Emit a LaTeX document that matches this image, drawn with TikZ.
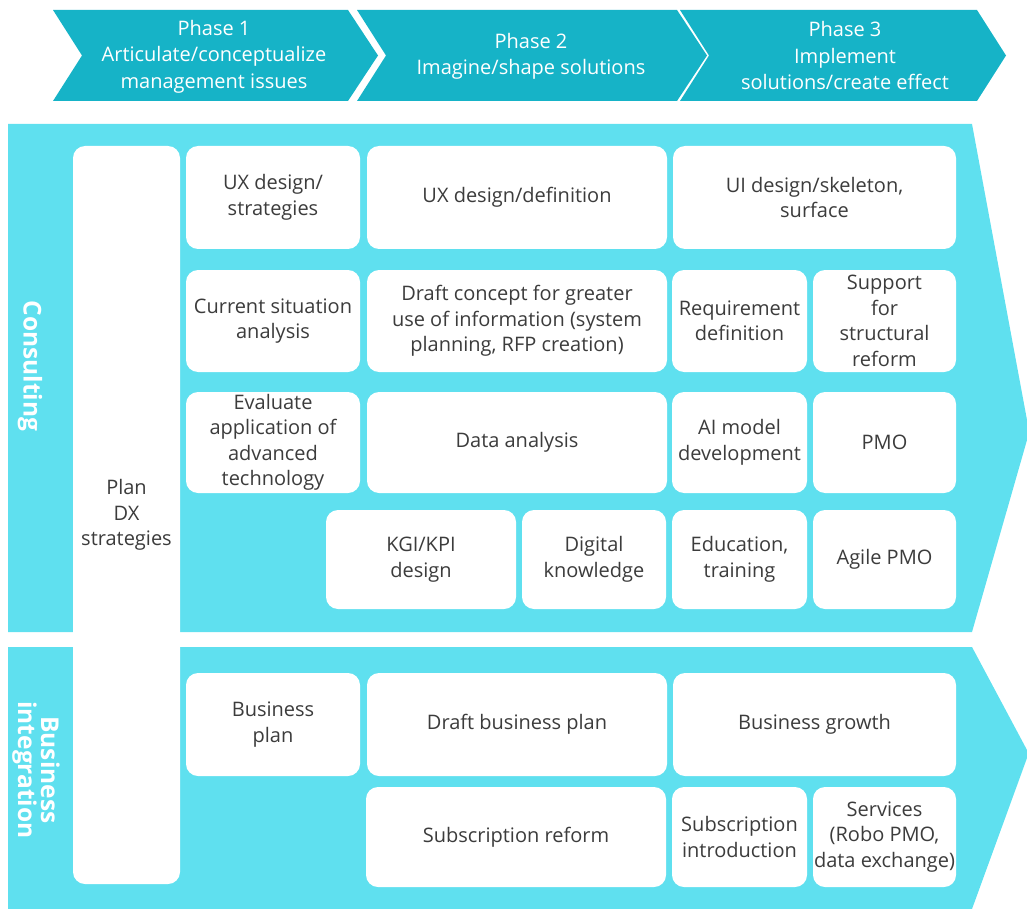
\documentclass[tikz,border=0pt]{standalone}
\usepackage{fontspec}
\setmainfont{Open Sans}
\usetikzlibrary{positioning}
\definecolor{phase}{HTML}{16B3C7}
\definecolor{panel}{HTML}{5FE0EF}
\definecolor{ink}{HTML}{3C3C3C}
\tikzset{
  cell/.style 2 args={rectangle, rounded corners=12pt, fill=white, text=ink,
    align=center, inner sep=0pt, outer sep=0pt,
    minimum width=#1, minimum height=#2,
    font=\fontsize{20}{25.5}\selectfont},
  phasetext/.style={text=white, align=center, font=\fontsize{20}{26.5}\selectfont},
  sidetext/.style={text=white, align=center, rotate=-90,
    font=\fontsize{24.5}{23}\selectfont\bfseries}
}

\begin{document}
\begin{tikzpicture}[x=1pt, y=-1pt]
\useasboundingbox (0,0) rectangle (1027,909);

%% phases
\fill[phase] (53,10) -- (348,10) -- (378,55.5) -- (348,101) -- (53,101) -- (82,55.5) -- cycle;
\fill[phase] (357,10) -- (677,10) -- (707,55.5) -- (677,101) -- (357,101) -- (386,55.5) -- cycle;
\fill[phase] (680,10) -- (977,10) -- (1006,55.5) -- (977,101) -- (680,101) -- (709,55.5) -- cycle;

\node[phasetext] (ph1) at (214,56.5) {Phase 1\\Articulate/conceptualize\\management issues};
\node[phasetext] (ph2) at (531,56.5) {Phase 2\\Imagine/shape solutions};
\node[phasetext] (ph3) at (845,56) {Phase 3\\Implement\\solutions/create effect};

%% panels
\fill[panel] (8,124) -- (972,124) -- (1027,420) -- (1027,440) -- (972,632) -- (8,632) -- cycle;
\fill[panel] (8,647) -- (972,647) -- (1027,750) -- (1027,758) -- (972,909) -- (8,909) -- cycle;

\node[sidetext] (consult) at (30,366) {Consulting};
\node[sidetext] (bizint) at (36,770) {Business\\integration};

\node[cell={107pt}{738pt}] (plandx) at (126.5,515) {Plan\\DX\\strategies};

%% consulting row 1
\node[cell={174pt}{103pt}] (uxstrat) at (273,197.5) {UX design/\\strategies};
\node[cell={300pt}{103pt}] (uxdef) at (517,197.5) {UX design/definition};
\node[cell={283pt}{103pt}] (uidesign) at (814.5,197.5) {UI design/skeleton,\\surface};

%% consulting row 2
\node[cell={174pt}{102pt}] (curanal) at (273,321) {Current situation\\analysis};
\node[cell={300pt}{102pt}] (draftcon) at (517,321) {Draft concept for greater\\use of information (system\\planning, RFP creation)};
\node[cell={135pt}{102pt}] (reqdef) at (739.5,321) {Requirement\\definition};
\node[cell={143pt}{102pt}] (support) at (884.5,321) {Support\\for\\structural\\reform};

%% consulting row 3
\node[cell={174pt}{101pt}] (evaltech) at (273,442.5) {Evaluate\\application of\\advanced\\technology};
\node[cell={300pt}{101pt}] (dataanal) at (517,442.5) {Data analysis};
\node[cell={135pt}{101pt}] (aimodel) at (739.5,442.5) {AI model\\development};
\node[cell={143pt}{101pt}] (pmo) at (884.5,442.5) {PMO};

%% consulting row 4
\node[cell={190pt}{99pt}] (kgikpi) at (421,559.5) {KGI/KPI\\design};
\node[cell={144pt}{99pt}] (digital) at (594,559.5) {Digital\\knowledge};
\node[cell={135pt}{99pt}] (educ) at (739.5,559.5) {Education,\\training};
\node[cell={143pt}{99pt}] (agile) at (884.5,559.5) {Agile PMO};

%% business row 1
\node[cell={174pt}{103pt}] (bizplan) at (273,724.5) {Business\\plan};
\node[cell={300pt}{103pt}] (draftbiz) at (517,724.5) {Draft business plan};
\node[cell={283pt}{103pt}] (bizgrowth) at (814.5,724.5) {Business growth};

%% business row 2
\node[cell={300pt}{100pt}] (subreform) at (516,837) {Subscription reform};
\node[cell={135pt}{100pt}] (subintro) at (739.5,837) {Subscription\\introduction};
\node[cell={143pt}{100pt}] (services) at (884.5,837) {Services\\(Robo PMO,\\data exchange)};

\end{tikzpicture}
\end{document}
